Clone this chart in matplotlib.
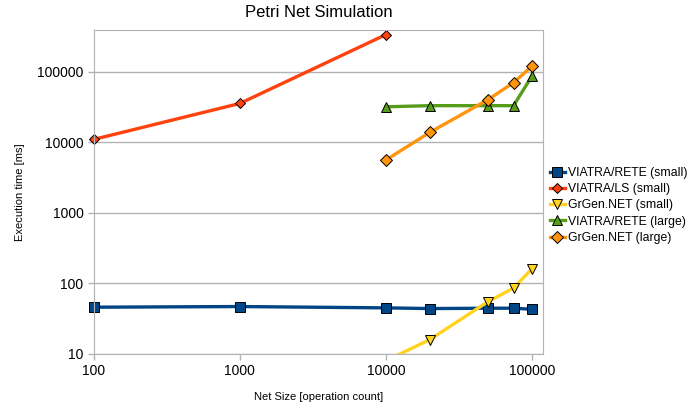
import matplotlib
matplotlib.use('Agg')
import matplotlib.pyplot as plt

plt.rcParams['font.family'] = ['Liberation Sans', 'DejaVu Sans']

# net sizes
sizes_small = [100, 1000, 10000, 20000, 50000, 75000, 100000]
sizes_ls = [100, 1000, 10000]
sizes_large = [10000, 20000, 50000, 75000, 100000]

# execution times [ms]
rete_small = [46, 47, 45, 44, 44.5, 44.5, 43]
ls_small = [11000, 35500, 335000]
grgen_small_x = [10000, 20000, 50000, 75000, 100000]
grgen_small = [8, 16, 55, 86, 160]
rete_large = [31800, 33000, 33000, 33000, 86000]
grgen_large = [5600, 13800, 40000, 70000, 119000]

labels = ['VIATRA/RETE (small)', 'VIATRA/LS (small)', 'GrGen.NET (small)',
          'VIATRA/RETE (large)', 'GrGen.NET (large)']

fig = plt.figure(figsize=(6.88, 4.05), dpi=100)
ax = fig.add_axes([0.1366, 0.126, 0.6524, 0.8])

ax.plot(sizes_small, rete_small, color='#004586', lw=2.4, marker='s', ms=7,
        mfc='#004586', mec='black', mew=0.7, label=labels[0], clip_on=False)
ax.plot(sizes_ls, ls_small, color='#ff420e', lw=2.4, marker='D', ms=5.5,
        mfc='#ff420e', mec='black', mew=0.7, label=labels[1], clip_on=False)
ax.plot(grgen_small_x, grgen_small, color='#ffd320', lw=2.4, marker='v', ms=7,
        mfc='#ffd320', mec='black', mew=0.7, label=labels[2])
ax.plot(sizes_large, rete_large, color='#579d1c', lw=2.4, marker='^', ms=7,
        mfc='#579d1c', mec='black', mew=0.7, label=labels[3], clip_on=False)
ax.plot(sizes_large, grgen_large, color='#ff950e', lw=2.4, marker='D', ms=6.5,
        mfc='#ff950e', mec='black', mew=0.7, label=labels[4], clip_on=False)

ax.set_xscale('log')
ax.set_yscale('log')
ax.set_xlim(100, 119000)
ax.set_ylim(10, 390000)
ax.set_xticks([100, 1000, 10000, 100000])
ax.set_xticklabels(['100', '1000', '10000', '100000'])
ax.set_yticks([10, 100, 1000, 10000, 100000])
ax.set_yticklabels(['10', '100', '1000', '10000', '100000'])
ax.minorticks_off()
ax.tick_params(labelsize=10, color='#b3b3b3', length=4, width=1)
ax.yaxis.grid(True, color='#b3b3b3', lw=1)
ax.set_axisbelow(True)
for sp in ax.spines.values():
    sp.set_color('#b3b3b3')

ax.set_title('Petri Net Simulation', fontsize=12, pad=9)
ax.set_xlabel('Net Size [operation count]', fontsize=8, labelpad=10)
ax.set_ylabel('Execution time [ms]', fontsize=8, labelpad=9)

ax.legend(loc='upper left', bbox_to_anchor=(1.0, 0.6), frameon=False,
          fontsize=8.8, handlelength=1.2, handletextpad=0.3, labelspacing=0.35,
          borderaxespad=0.2)

fig.savefig('out.png', dpi=100)
